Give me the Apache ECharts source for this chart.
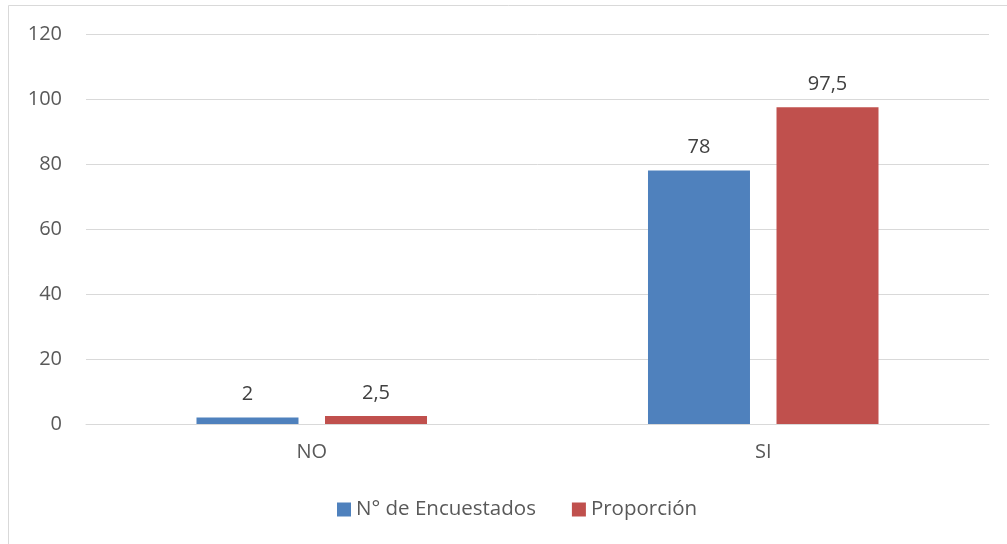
<!DOCTYPE html>
<html><head><meta charset="utf-8">
<script src="https://cdn.jsdelivr.net/npm/echarts@6/dist/echarts.min.js"></script>
<style>html,body{margin:0;padding:0;background:#fff}#c{width:1007px;height:544px}</style>
</head><body><div id="c"></div>
<script>
const categories = ['NO', 'SI'];
const encuestados = [2, 78];
const proporcion = [2.5, 97.5];
const seriesNames = ['N° de Encuestados', 'Proporción'];
const yTicks = { min: 0, max: 120, interval: 20 };

const fontFam = '"Open Sans", Calibri, "Liberation Sans", sans-serif';
const fmt = p => String(p.value).replace('.', ',');
const chart = echarts.init(document.getElementById('c'), null, { renderer: 'canvas' });
chart.setOption({
  animation: false,
  backgroundColor: '#fff',
  textStyle: { fontFamily: fontFam },
  graphic: [{
    type: 'rect', silent: true, z: -1,
    shape: { x: 8.5, y: 5.5, width: 1020, height: 560 },
    style: { fill: 'none', stroke: '#d9d9d9', lineWidth: 1 }
  }],
  grid: { left: 86, right: 18, top: 34, bottom: 120, containLabel: false },
  legend: {
    bottom: 19, left: 332, itemWidth: 14, itemHeight: 14, itemGap: 36,
    icon: 'rect',
    textStyle: { fontSize: 20.5, color: '#595959', fontFamily: fontFam },
    data: seriesNames
  },
  xAxis: {
    type: 'category', data: categories,
    axisLine: { lineStyle: { color: '#d9d9d9' } },
    axisTick: { show: false },
    axisLabel: { fontSize: 20, color: '#595959', margin: 18, fontFamily: fontFam }
  },
  yAxis: {
    type: 'value', min: yTicks.min, max: yTicks.max, interval: yTicks.interval,
    axisLine: { show: false }, axisTick: { show: false },
    axisLabel: { fontSize: 20, color: '#595959', margin: 24, fontFamily: fontFam },
    splitLine: { lineStyle: { color: '#d9d9d9', width: 1 } }
  },
  series: [
    {
      name: seriesNames[0], type: 'bar', data: encuestados,
      barWidth: 102, barGap: '26%',
      itemStyle: { color: '#4f81bd' },
      label: { show: true, position: 'top', distance: 13, fontSize: 20, color: '#404040', formatter: fmt, fontFamily: fontFam }
    },
    {
      name: seriesNames[1], type: 'bar', data: proporcion,
      barWidth: 102, barGap: '26%',
      itemStyle: { color: '#c0504d' },
      label: { show: true, position: 'top', distance: 13, fontSize: 20, color: '#404040', formatter: fmt, fontFamily: fontFam }
    }
  ]
});
</script></body></html>
